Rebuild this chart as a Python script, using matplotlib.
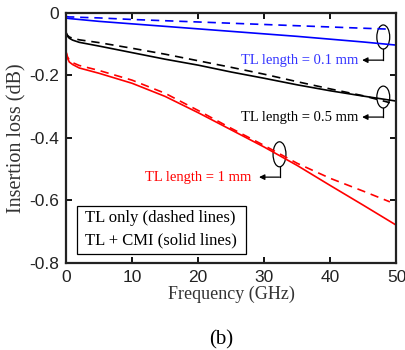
import numpy as np
import matplotlib.pyplot as plt
from matplotlib.patches import Ellipse, Rectangle

plt.rcParams['font.family'] = 'sans-serif'
plt.rcParams['font.sans-serif'] = ['Liberation Sans']
plt.rcParams['axes.unicode_minus'] = False

serif = 'Liberation Serif'

# frequency points (GHz)
f_solid = [0, 0.2, 0.5, 1, 2, 5, 10, 15, 20, 25, 30, 35, 40, 45, 50]
f_dash = [0, 0.2, 0.5, 1, 2, 5, 10, 15, 20, 25, 30, 35, 40, 45, 49]

# TL length = 0.1 mm
blue_solid = [-0.017, -0.018, -0.019, -0.020, -0.022, -0.028, -0.036, -0.044,
              -0.052, -0.060, -0.068, -0.076, -0.085, -0.094, -0.104]
blue_dash = [-0.013, -0.013, -0.014, -0.014, -0.015, -0.017, -0.022, -0.026,
             -0.030, -0.034, -0.038, -0.042, -0.046, -0.050, -0.053]

# TL length = 0.5 mm
black_solid = [-0.065, -0.075, -0.082, -0.088, -0.095, -0.107, -0.128, -0.149,
               -0.168, -0.190, -0.210, -0.231, -0.250, -0.267, -0.283]
black_dash = [-0.063, -0.072, -0.078, -0.082, -0.087, -0.096, -0.114, -0.133,
              -0.154, -0.175, -0.197, -0.221, -0.244, -0.266, -0.288]

# TL length = 1 mm
red_solid = [-0.125, -0.145, -0.158, -0.166, -0.177, -0.194, -0.226, -0.268,
             -0.320, -0.375, -0.430, -0.489, -0.553, -0.616, -0.680]
red_dash = [-0.125, -0.140, -0.152, -0.160, -0.169, -0.185, -0.216, -0.258,
            -0.313, -0.370, -0.425, -0.482, -0.530, -0.571, -0.605]

fig = plt.figure(figsize=(4.05, 3.5), dpi=100)
ax = fig.add_axes([0.163, 0.249, 0.816, 0.715])

lw = 1.2
dash = (0, (5, 3.5))
ax.plot(f_solid, blue_solid, color='#0000ff', lw=lw)
ax.plot(f_dash, blue_dash, color='#0000ff', lw=lw, linestyle=dash)
ax.plot(f_solid, black_solid, color='k', lw=lw)
ax.plot(f_dash, black_dash, color='k', lw=lw, linestyle=dash)
ax.plot(f_solid, red_solid, color='#ff0000', lw=lw)
ax.plot(f_dash, red_dash, color='#ff0000', lw=lw, linestyle=dash)

ax.set_xlim(0, 50)
ax.set_ylim(-0.8, 0)
ax.set_xticks([0, 10, 20, 30, 40, 50])
ax.set_yticks([-0.8, -0.6, -0.4, -0.2, 0])
ax.set_yticklabels(['-0.8', '-0.6', '-0.4', '-0.2', '0'])
ax.tick_params(direction='in', top=True, right=True, length=4, width=1.3,
               labelsize=12.5, pad=5, labelcolor='#222222')
for s in ax.spines.values():
    s.set_linewidth(1.6)
    s.set_color('#222222')

ax.set_xlabel('Frequency (GHz)', family=serif, fontsize=13, labelpad=1,
              color='#333333')
ax.set_ylabel('Insertion loss (dB)', family=serif, fontsize=14.5, labelpad=2,
              color='#333333')

# annotations: (ellipse center x, y, height, bottom of leader, arrow tip x, text x, label, color)
notes = [(48.0, -0.078, 0.077, -0.152, 44.8, 44.2, 'TL length = 0.1 mm', '#3333ff'),
         (48.0, -0.270, 0.070, -0.334, 44.8, 44.2, 'TL length = 0.5 mm', 'k'),
         (32.3, -0.453, 0.080, -0.526, 29.2, 28.1, 'TL length = 1 mm', '#ff0000')]
for cx, cy, h, yb, xt, xtx, lab, c in notes:
    ax.add_patch(Ellipse((cx, cy), 1.95, h, fill=False, ec='k', lw=0.9))
    ax.plot([cx, cx], [cy - h / 2, yb], color='k', lw=0.9)
    ax.annotate('', xy=(xt, yb), xytext=(cx, yb),
                arrowprops=dict(arrowstyle='-|>', color='k', lw=0.9,
                                mutation_scale=8, shrinkA=0, shrinkB=0))
    ax.text(xtx, yb, lab, color=c, family=serif, fontsize=10.5,
            ha='right', va='center')

# legend box
ax.add_patch(Rectangle((1.65, -0.772), 25.6, 0.154, fill=True, fc='white',
                       ec='k', lw=0.9))
ax.text(2.9, -0.658, 'TL only (dashed lines)', family=serif, fontsize=12,
        va='center')
ax.text(2.9, -0.728, 'TL + CMI (solid lines)', family=serif, fontsize=12,
        va='center')

fig.text(0.546, 0.03, '(b)', family=serif, fontsize=15, ha='center', va='center')

fig.savefig('out.png', dpi=100)
